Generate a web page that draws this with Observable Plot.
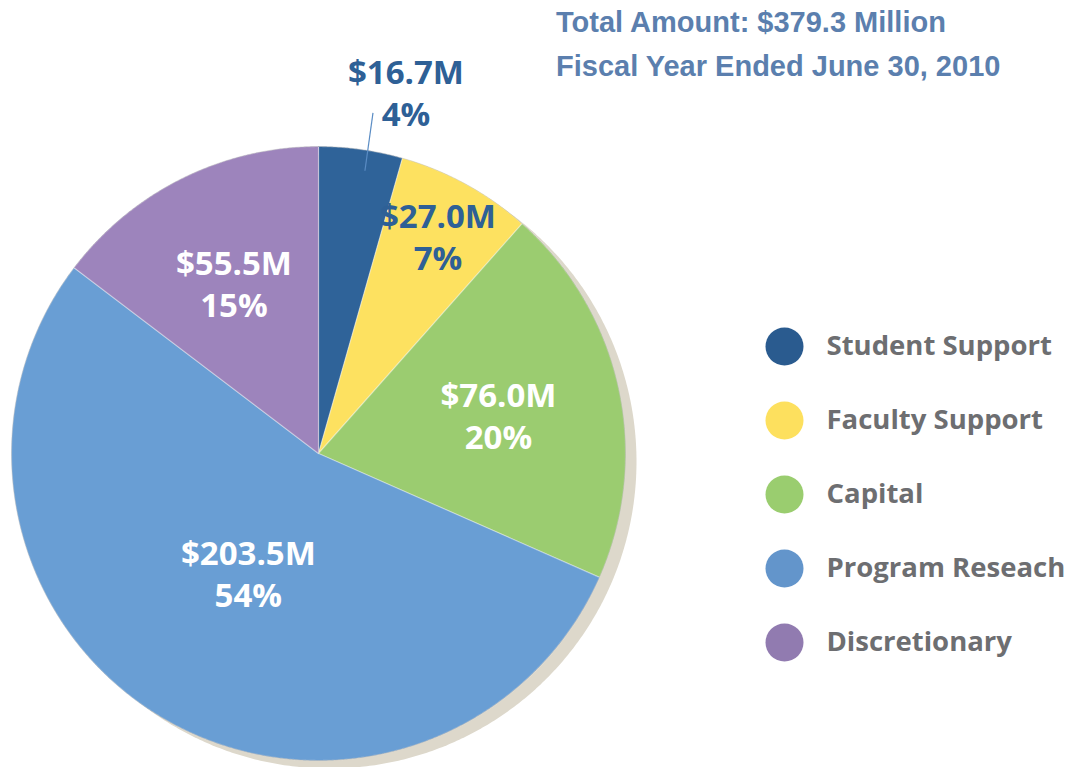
<!DOCTYPE html>
<html><head><meta charset="utf-8">
<script src="https://cdn.jsdelivr.net/npm/d3@7"></script>
<script src="https://cdn.jsdelivr.net/npm/@observablehq/plot@0.6"></script>
<style>
body{margin:0;background:#fff;}
#wrap{position:relative;width:1070px;height:767px;overflow:hidden;background:#fff;}
#chart{position:absolute;left:0;top:0;}
#title{position:absolute;left:556px;top:0px;font-family:"Liberation Sans",Arial,sans-serif;font-weight:bold;font-size:29px;color:#5b7fae;line-height:44px;}
#legend{position:absolute;left:760px;top:308px;}
</style></head><body>
<div id="wrap">
  <div id="chart"></div>
  <div id="title"><div>Total Amount: $379.3 Million</div><div>Fiscal Year Ended June 30, 2010</div></div>
  <div id="legend"></div>
</div>
<script>
// ---- data ----
const categories = ["Student Support", "Faculty Support", "Capital", "Program Reseach", "Discretionary"];
const amounts = [16.7, 27.0, 76.0, 203.5, 55.5];
const amountLabels = ["$16.7M", "$27.0M", "$76.0M", "$203.5M", "$55.5M"];
const percentLabels = ["4%", "7%", "20%", "54%", "15%"];
const sliceColors = ["#2f6399", "#fde160", "#9bcc70", "#699ed4", "#9d84bc"];
const legendColors = ["#2a5b8f", "#fde05e", "#9acd6f", "#6395cb", "#917bb0"];
const labelColors = ["#2e6096", "#2e6096", "#ffffff", "#ffffff", "#ffffff"];
const labelRadius = [1.19, 0.81, 0.60, 0.45, 0.62];

// ---- layout ----
const W = 1070, H = 767, R = 307, CX = 318, CY = 453;

const rows = categories.map((c, i) => ({
  category: c, amount: amounts[i], amountLabel: amountLabels[i],
  pct: percentLabels[i], labelColor: labelColors[i], labelR: labelRadius[i]
}));
const arcs = d3.pie().sort(null).value(d => d.amount)(rows);

// slice polygons (unit radius, y up, angle clockwise from 12 o'clock)
const slicePts = [];
arcs.forEach(a => {
  const cat = a.data.category;
  slicePts.push({category: cat, x: 0, y: 0});
  const n = Math.max(4, Math.ceil((a.endAngle - a.startAngle) / 0.005));
  for (let k = 0; k <= n; k++) {
    const t = a.startAngle + (a.endAngle - a.startAngle) * k / n;
    slicePts.push({category: cat, x: Math.sin(t), y: Math.cos(t)});
  }
  slicePts.push({category: cat, x: 0, y: 0});
});
const circlePts = d3.range(0, 721).map(k => {
  const t = k / 720 * 2 * Math.PI;
  return {x: Math.sin(t), y: Math.cos(t)};
});

const labels = arcs.map(a => {
  const m = (a.startAngle + a.endAngle) / 2;
  return {...a.data, x: a.data.labelR * Math.sin(m), y: a.data.labelR * Math.cos(m), mid: m};
});
const inside = labels.filter(d => d.labelR < 1);
const outside = labels.filter(d => d.labelR >= 1);
const leaders = outside.map(d => ({
  x1: 0.93 * Math.sin(d.mid), y1: 0.93 * Math.cos(d.mid),
  x2: 1.12 * Math.sin(d.mid), y2: 1.12 * Math.cos(d.mid)
}));

const fontLabel = {fontFamily: "'Open Sans', sans-serif", fontWeight: "bold", fontSize: 33, lineHeight: 1.27};

const chart = Plot.plot({
  width: W, height: H, margin: 0,
  x: {domain: [-CX / R, (W - CX) / R], range: [0, W], axis: null},
  y: {domain: [-(H - CY) / R, CY / R], range: [H, 0], axis: null},
  color: {domain: categories, range: sliceColors},
  style: {background: "transparent"},
  marks: [
    Plot.line(circlePts, {x: "x", y: "y", fill: "#ddd8cb", stroke: "none", dx: 11, dy: 8}),
    Plot.line(slicePts, {x: "x", y: "y", z: "category", fill: "category", stroke: "#ffffff", strokeOpacity: 0.35, strokeWidth: 1.2, strokeLinejoin: "round"}),
    Plot.line(circlePts, {x: "x", y: "y", stroke: "#000", strokeOpacity: 0.12, strokeWidth: 1}),
    Plot.link(leaders, {x1: "x1", y1: "y1", x2: "x2", y2: "y2", stroke: "#5a8cc4", strokeWidth: 1.2, dx: 7}),
    Plot.text(inside, {x: "x", y: "y", text: d => d.amountLabel + "\n" + d.pct, fill: "labelColor", ...fontLabel}),
    Plot.text(outside, {x: "x", y: "y", text: d => d.amountLabel + "\n" + d.pct, fill: "labelColor", dx: 37, ...fontLabel})
  ]
});
document.getElementById("chart").appendChild(chart);

const legend = Plot.plot({
  width: 310, height: 360, margin: 0,
  y: {type: "point", domain: categories, range: [37, 334], padding: 0, axis: null},
  color: {domain: categories, range: legendColors},
  style: {background: "transparent"},
  marks: [
    Plot.dot(categories, {y: d => d, fill: d => d, r: 19, frameAnchor: "left", dx: 24}),
    Plot.text(categories, {y: d => d, text: d => d, frameAnchor: "left", dx: 66, textAnchor: "start",
      fill: "#6d6e71", fontFamily: "'Open Sans', sans-serif", fontWeight: "bold", fontSize: 27.5})
  ]
});
document.getElementById("legend").appendChild(legend);
</script>
</body></html>
